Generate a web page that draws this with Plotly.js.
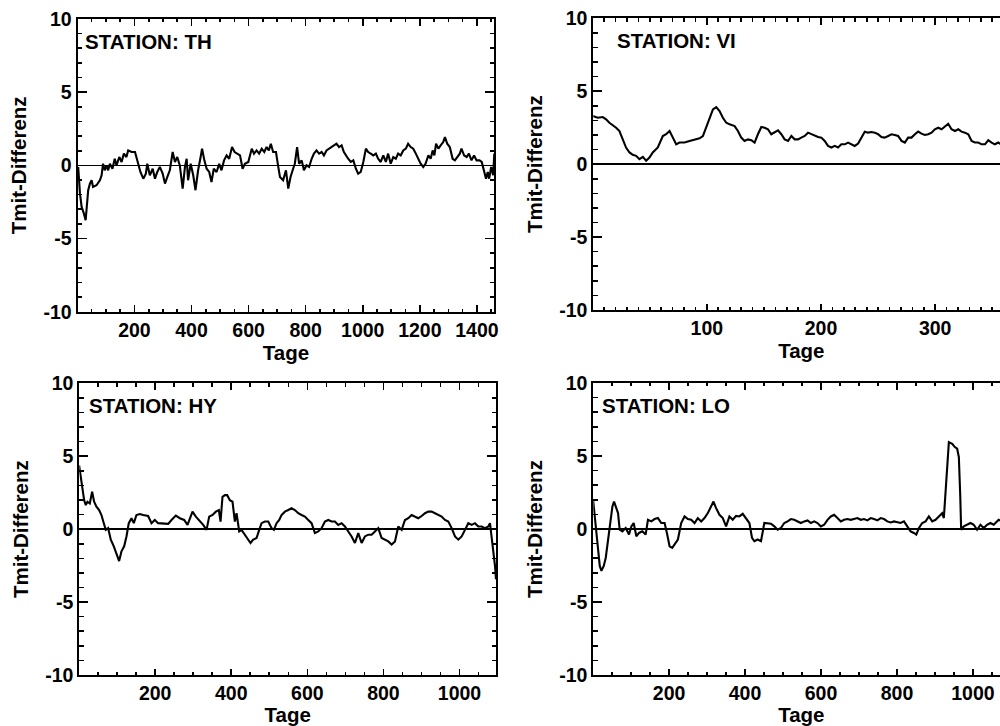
<!DOCTYPE html>
<html>
<head>
<meta charset="utf-8">
<script src="https://cdn.plot.ly/plotly-3.0.1.min.js"></script>
<style>
html,body{margin:0;padding:0;overflow:hidden;background:#fff;}
#chart{width:1020px;height:726px;}
</style>
</head>
<body>
<div id="chart"></div>
<script>
// ---------- DATA ----------
const stations = ["TH", "VI", "HY", "LO"];
const yTickVals = [-10, -5, 0, 5, 10];
const yTickText = ["-10", "-5", "0", "5", "10"];
const xMajorStep = [200, 100, 200, 200];
const xMinorStep = [50, 10, 50, 50];
const xRanges = [[0.5, 1461], [0.5, 365], [0.5, 1096], [0.5, 1096]];

const thDays = [1,3,9,15,23,29,32,38,44,50,55,67,79,85,90,96,102,108,114,123,131,137,147,155,163,172,178,190,202,213,221,231,240,245,254,264,272,280,289,299,307,315,324,334,342,350,359,369,377,383,388,397,406,414,423,432,437,445,453,462,470,478,488,497,505,514,523,532,542,551,560,570,579,587,599,611,619,628,637,646,655,663,671,678,686,696,704,710,721,731,739,747,756,762,770,777,786,794,803,812,821,829,838,847,856,864,873,883,891,900,908,917,926,934,941,949,958,967,976,984,993,1002,1011,1019,1028,1037,1046,1054,1063,1072,1081,1089,1098,1107,1116,1124,1133,1142,1151,1159,1168,1177,1186,1195,1203,1212,1220,1230,1238,1245,1251,1257,1265,1273,1282,1288,1296,1305,1315,1323,1331,1340,1346,1355,1364,1372,1381,1390,1399,1409,1417,1425,1432,1438,1443,1450,1457,1461];
const thVals = [-0.3,-0.11,-1.9,-2.84,-3.3,-3.75,-3.07,-1.7,-1.25,-1.02,-1.48,-1.36,-1.02,-0.68,0.11,-0.34,0,-0.34,0.11,-0.23,0.45,0,0.57,0.23,0.8,0.57,1.02,0.91,0.91,0.11,-0.45,-0.91,-0.57,0.11,-0.68,-0.23,-0.91,-0.45,-0.11,-0.57,-1.25,-0.8,-0.34,0.91,0.23,0.57,0,-1.59,-0.11,0.45,-1.02,0.11,-0.68,-1.7,-0.34,0.57,1.14,0.34,-0.23,-0.45,-1.14,-0.23,-0.45,0.11,-0.34,0.34,0.68,0.45,1.25,0.91,0.8,0.68,-0.23,0.11,0.23,1.14,0.8,1.02,0.8,1.14,0.91,1.25,1.02,1.48,0.91,0.91,-0.11,-0.8,-1.02,-0.34,-1.59,-0.8,-0.23,0.11,1.25,0.11,0.34,-0.34,0,-0.11,0.45,0.8,1.02,0.8,0.91,0.68,1.02,1.14,1.25,1.36,1.48,1.25,1.36,0.91,0.68,0.45,0.23,0.34,-0.23,-0.57,-0.45,0.23,1.14,0.91,0.8,0.68,0.8,0.45,0.23,0.68,0.23,0.8,0.11,0.57,0.45,0.8,0.68,1.02,1.14,1.48,1.25,1.14,0.8,0.45,0.11,-0.11,0.11,0.68,0.45,1.02,0.68,1.48,1.14,1.36,1.59,1.93,1.48,1.25,0.45,0.34,0.57,0.8,1.14,0.68,0.57,0.8,0.34,0.68,0.34,0.34,0.23,-0.45,-0.91,-0.45,-0.91,-0.11,-0.68,0.8];

const viDays = [0,4.4,8.8,11.7,14.6,17.5,20.5,23.4,26.3,29.2,32.2,35.1,38,40.9,43.9,46.8,49.7,52.6,57,61.4,64.3,67.3,70.2,73.1,76,80.4,84.8,89.2,93.6,96.5,99.4,102.3,105.3,108.2,111.1,114,117,119.9,124.3,127.2,130.1,133,136,138.9,141.8,144.7,147.7,150.6,153.5,156.4,159.4,162.3,165.2,168.1,171.1,174,176.9,179.8,182.7,185.7,188.6,191.5,194.4,197.4,200.3,203.2,206.1,209.1,212,214.9,217.8,220.8,223.7,226.6,229.5,232.5,235.4,238.3,241.2,244.2,247.1,250,252.9,255.8,258.8,261.7,264.6,267.5,270.5,273.4,276.3,279.2,282.2,285.1,288,290.9,293.9,296.8,299.7,302.6,305.6,308.5,311.4,314.3,317.3,320.2,323.1,326,329,331.9,334.8,337.7,340.6,343.6,346.5,349.4,352.3,355.3,356.7,360,365];
const viVals = [3.3,3.18,3.23,3.07,2.84,2.68,2.5,2.27,1.7,1.14,0.8,0.64,0.57,0.34,0.5,0.23,0.45,0.8,1.14,1.93,2.05,2.27,1.82,1.36,1.48,1.48,1.59,1.7,1.77,1.93,2.5,3.18,3.75,3.91,3.64,3.18,2.84,2.73,2.61,2.27,1.82,1.59,1.7,1.64,1.48,2.05,2.55,2.5,2.39,2.05,2.16,2.32,2.05,1.7,1.59,1.93,1.7,1.7,1.82,1.93,2.16,2.05,1.93,1.86,1.82,1.59,1.25,1.14,1.25,1.14,1.36,1.36,1.48,1.36,1.25,1.41,1.82,2.23,2.16,2.2,2.16,2.05,1.86,1.82,1.93,2.05,2.0,1.93,1.59,1.48,1.82,1.82,2.05,2.23,2.09,2.0,2.05,2.16,2.39,2.5,2.39,2.61,2.77,2.39,2.27,2.39,2.23,2.16,2.05,1.59,1.48,1.48,1.36,1.36,1.64,1.48,1.36,1.48,1.41,1.45,1.4];

const hyDays = [0,4.4,8.8,13.2,17.5,21.9,28.1,34.2,39.5,45.6,52.6,58.7,64.9,70.1,76.3,83.3,91.2,98.2,105.2,111.4,118.4,124.5,130.6,137.7,143.8,150.8,159.6,168.3,181.5,190.3,199,207.8,221,234.1,242.9,254.3,264.8,276.2,285,291.1,298.1,306.9,315.6,326.2,335,342,350.7,359.5,367.4,371.8,377,383.2,389.3,396.3,403.3,409.5,413.9,420.9,427,435.8,444.6,450.7,457.7,466.5,473.5,479.6,488.4,497.2,505.9,512.1,519.1,526.1,532.2,541,549.8,558.5,567.3,576.1,584.8,593.6,602.4,611.1,619.9,628.7,637.4,646.2,655,663.8,672.5,681.3,690.1,698.8,707.6,716.4,725.1,733.9,742.7,751.4,760.2,769,777.7,786.5,795.3,804.1,812.8,821.6,830.4,839.1,847.9,856.7,865.4,874.2,883,891.7,900.5,909.3,918,926.8,935.6,944.3,953.1,961.9,970.6,979.4,988.2,996.9,1005.7,1014.5,1023.2,1032,1040.8,1049.5,1058.3,1067.1,1075.8,1080.2,1084.6,1089,1093.4,1096];
const hyVals = [4.37,3.57,2.44,1.99,1.65,1.88,1.76,2.56,1.88,1.54,1.31,0.97,0.41,-0.05,0.07,-0.72,-1.18,-1.63,-2.19,-1.52,-1.18,-0.5,0.41,0.75,0.41,0.97,1.04,0.97,0.9,0.41,0.63,0.41,0.36,0.36,0.63,0.93,0.75,0.63,0.29,0.75,1.2,0.86,0.63,0.29,-0.05,0.86,0.97,1.2,1.31,0.52,2.22,2.33,2.33,1.99,1.88,0.52,1.09,-0.16,-0.05,-0.38,-0.72,-0.95,-0.72,-0.61,-0.05,0.41,0.52,0.52,0.07,-0.05,0.41,0.63,0.97,1.2,1.31,1.43,1.31,1.09,0.97,0.86,0.63,0.41,-0.27,-0.16,0.07,0.52,0.63,0.52,0.52,0.29,0.41,0.18,-0.16,-0.5,-0.95,-0.27,-0.95,-0.5,-0.38,-0.38,-0.16,0.07,-0.61,-0.72,-0.84,-1.06,-0.84,0.18,-0.05,0.63,0.75,0.97,0.86,0.75,0.9,1.09,1.2,1.2,1.09,0.97,0.86,0.63,0.52,0.07,-0.5,-0.72,-0.5,-0.05,0.41,0.29,0.41,0.18,0.18,0.07,0.18,0.41,-0.5,-1.63,-2.53,-3.44];

const loDays = [0,4.4,8.8,13.1,17.5,21.9,28,33.3,39.4,45.5,50.8,55.1,61.3,65.6,70,77,85.8,94.5,100.7,106.8,113.8,120.8,129.5,138.3,144.4,153.2,161.9,170.7,179.4,188.2,194.3,201.3,208.3,214.4,223.2,231.9,240.7,249.5,258.2,267,275.7,284.5,293.2,302,310.7,316.9,323.8,332.6,341.4,350.1,358.9,367.6,376.4,385.1,393.9,402.6,411.4,418.4,424.5,433.3,442,450.8,459.5,468.3,477,485.8,494.5,503.3,512,520.8,529.5,538.3,547,555.8,564.6,573.3,582.1,590.8,599.6,608.3,617.1,625.8,634.6,643.3,652.1,660.8,669.6,678.3,687.1,695.8,704.6,713.3,722.1,730.9,739.6,748.4,757.1,765.9,774.6,783.4,792.1,800.9,809.6,818.4,827.1,835.9,844.6,850.8,857.8,866.5,875.3,884,892.8,901.5,910.3,919,923.4,927.8,932.2,936.6,945.4,952.4,958.5,962.9,966.4,969,976,984.7,993.5,1002.2,1010.9,1019.7,1028.4,1037.2,1046,1054.7,1063.5,1067.8,1080,1096];
const loVals = [1.99,0.86,-0.5,-1.63,-2.53,-2.87,-2.53,-1.97,-0.72,0.63,1.54,1.88,1.31,1.09,-0.05,-0.16,0.07,-0.38,0.18,0.41,-0.5,-0.27,-0.16,-0.38,0.63,0.52,0.68,0.75,0.41,0.41,-0.27,-1.18,-1.29,-1.06,-0.72,0.41,0.86,0.68,0.63,0.41,0.75,0.52,0.75,1.09,1.54,1.88,1.43,0.97,0.75,0.18,0.86,0.63,0.9,0.86,1.04,0.75,0.41,-0.61,-0.84,-0.72,-0.84,0.41,0.41,0.36,0.18,-0.05,0.07,0.41,0.52,0.68,0.63,0.52,0.41,0.52,0.59,0.41,0.52,0.41,0.18,0.29,0.63,0.86,0.97,0.75,0.52,0.63,0.68,0.63,0.68,0.75,0.63,0.68,0.59,0.75,0.68,0.59,0.75,0.68,0.52,0.45,0.52,0.45,0.41,0.52,0.18,-0.16,-0.27,-0.38,0.07,0.41,0.52,0.86,0.52,0.63,0.86,1.09,0.75,2.67,4.71,5.95,5.84,5.61,5.5,4.93,2.44,-0.05,0.18,0.29,0.41,0.29,-0.05,0.29,0.07,0.29,0.41,0.29,0.52,0.63,0.5,0.45];

const seriesX = [thDays, viDays, hyDays, loDays];
const seriesY = [thVals, viVals, hyVals, loVals];

// ---------- LAYOUT (pixel boxes) ----------
const W = 1020, H = 726;
const FONT = "Liberation Sans, Arial, Helvetica, sans-serif";
const boxes = [
  {l: 77.5, r: 494.3, t: 19, b: 311.7},
  {l: 593.3, r: 1009.4, t: 18.3, b: 310},
  {l: 79.3, r: 496, t: 383.3, b: 675},
  {l: 593.3, r: 1009.4, t: 383, b: 675}
];
const labelPos = [[82.7, 41.7], [615, 40], [87.3, 405], [600, 405]];

const tickFont = {family: FONT, size: 19.5, color: "#000", weight: 700};
const titleFont = {family: FONT, size: 20.5, color: "#000", weight: 700};

const layout = {
  width: W, height: H,
  margin: {l: 0, r: 0, t: 0, b: 0, pad: 0},
  paper_bgcolor: "#fff", plot_bgcolor: "#fff",
  showlegend: false,
  annotations: []
};
const traces = [];

for (let i = 0; i < 4; i++) {
  const s = i === 0 ? "" : String(i + 1);
  const bx = boxes[i];
  layout["xaxis" + s] = {
    domain: [bx.l / W, bx.r / W],
    anchor: "y" + s,
    range: xRanges[i],
    tickmode: "linear", tick0: 0, dtick: xMajorStep[i],
    showline: true, linecolor: "#000", linewidth: 2, mirror: "allticks",
    ticks: "inside", ticklen: 6.5, tickwidth: 1.6, tickcolor: "#000",
    minor: {ticks: "inside", ticklen: 3.2, tickwidth: 1.6, tickcolor: "#000", tickmode: "linear", dtick: xMinorStep[i], tick0: 0, showgrid: false},
    showgrid: false, zeroline: false,
    tickfont: tickFont,
    title: {text: "Tage", font: titleFont, standoff: 2}
  };
  layout["yaxis" + s] = {
    domain: [1 - bx.b / H, 1 - bx.t / H],
    anchor: "x" + s,
    range: [-10, 10],
    tickmode: "array", tickvals: yTickVals, ticktext: yTickText,
    showline: true, linecolor: "#000", linewidth: 2, mirror: "allticks",
    ticks: "inside", ticklen: 9, tickwidth: 1.6, tickcolor: "#000",
    minor: {ticks: "inside", ticklen: 4.5, tickwidth: 1.6, tickcolor: "#000", tickmode: "linear", dtick: 1, tick0: 0, showgrid: false},
    showgrid: false,
    zeroline: true, zerolinecolor: "#000", zerolinewidth: 1.5,
    tickfont: tickFont,
    title: {text: "Tmit-Differenz", font: titleFont, standoff: 11}
  };
  traces.push({
    type: "scatter", mode: "lines",
    x: seriesX[i], y: seriesY[i],
    xaxis: "x" + s, yaxis: "y" + s,
    line: {color: "#000", width: 2.1},
    hoverinfo: "skip"
  });
  layout.annotations.push({
    xref: "paper", yref: "paper",
    x: labelPos[i][0] / W, y: 1 - labelPos[i][1] / H,
    xanchor: "left", yanchor: "middle",
    text: "STATION: " + stations[i],
    showarrow: false,
    font: titleFont
  });
}

Plotly.newPlot("chart", traces, layout, {displayModeBar: false, staticPlot: true});
</script>
</body>
</html>
